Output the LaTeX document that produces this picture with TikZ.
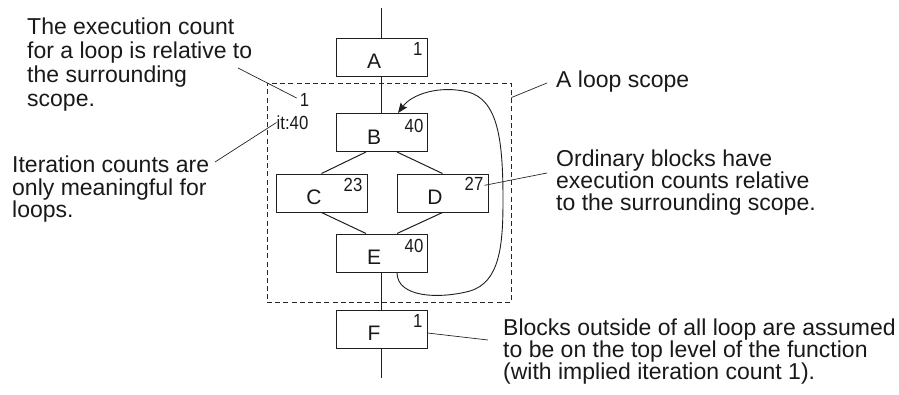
\documentclass[tikz,border=0pt]{standalone}
\usepackage{fontspec}
\setmainfont{Liberation Sans}
\newfontfamily\condfont[FakeStretch=0.88]{Liberation Sans}
\usetikzlibrary{arrows.meta}
\begin{document}
\begin{tikzpicture}[x=1pt,y=-1pt,
  line join=miter,
  blk/.style={draw=black!88, line width=1pt, minimum width=91pt, minimum height=38pt, inner sep=0pt},
  let/.style={inner sep=0pt, font=\fontsize{21}{24}\selectfont, text=black!90},
  num/.style={inner sep=0pt, anchor=north east, font=\condfont\fontsize{19}{22}\selectfont, text=black!90},
  lbl/.style={inner sep=0pt, font=\condfont\fontsize{19}{22}\selectfont, text=black!90},
  txt/.style={inner sep=0pt, anchor=north west, align=left, text=black!90},
  edge/.style={draw=black!88, line width=1pt},
  leader/.style={draw=black!85, line width=0.7pt},
  scopebox/.style={draw=black!85, line width=0.9pt, dash pattern=on 5pt off 3.2pt, minimum width=244pt, minimum height=219pt, inner sep=0pt}
]
\useasboundingbox (0,0) rectangle (899,394);

% loop scope
\node[scopebox] (scope) at (389,192.5) {};

% blocks
\node[blk] (A) at (381.5,57) {};
\node[blk] (B) at (381.5,132.5) {};
\node[blk] (C) at (321.5,193) {};
\node[blk] (D) at (442.5,193) {};
\node[blk] (E) at (381.5,253) {};
\node[blk] (F) at (381.5,329) {};

\foreach \n in {A,B,C,D,E,F}{
  \node[let] (l\n) at ([shift={(-7.5,4.5)}]\n.center) {\n};
}
\node[num] (nA) at ([shift={(-5,5)}]A.north east) {1};
\node[num] (nB) at ([shift={(-4,6)}]B.north east) {40};
\node[num] (nC) at ([shift={(-5,5)}]C.north east) {23};
\node[num] (nD) at ([shift={(-5,4)}]D.north east) {27};
\node[num] (nE) at ([shift={(-4,6)}]E.north east) {40};
\node[num] (nF) at ([shift={(-5,5)}]F.north east) {1};

% flow edges
\coordinate (top) at (381.5,8);
\coordinate (bot) at (381.5,378);
\draw[edge] (top) -- (A.north);
\draw[edge] (A.south) -- (B.north);
\draw[edge] ([xshift=-15.5pt]B.south) -- (C.north);
\draw[edge] ([xshift=15.5pt]B.south) -- (D.north);
\draw[edge] (C.south) -- ([xshift=-15.5pt]E.north);
\draw[edge] (D.south) -- ([xshift=15.5pt]E.north);
\draw[edge] (E.south) -- (F.north);
\draw[edge] (F.south) -- (bot);

% back edge
\draw[edge, line width=0.9pt, -{Stealth[length=10pt,width=8pt,inset=1.5pt]}]
  ([xshift=15.5pt]E.south)
  .. controls (397,298) and (440,299) .. (470,291)
  .. controls (500,282) and (503,245) .. (503,200)
  .. controls (503,140) and (498,100) .. (468,92)
  .. controls (440,85) and (412,94) .. ([xshift=16.5pt]B.north);

% scope labels
\node[lbl] (lone) at (304.5,100) {1};
\node[lbl] (itc) at (292.5,122.5) {it:40};

% annotation texts
\node[txt, font=\fontsize{23}{24}\selectfont] (t1) at (27,18)
  {The execution count\\for a loop is relative to\\the surrounding\\scope.};
\node[txt, font=\fontsize{23}{22.5}\selectfont] (t2) at (12,156)
  {Iteration counts are\\only meaningful for\\loops.};
\node[txt, font=\fontsize{23}{24}\selectfont] (t3) at (556,71)
  {A loop scope};
\node[txt, font=\fontsize{23}{22}\selectfont] (t4) at (556,150)
  {Ordinary blocks have\\execution counts relative\\to the surrounding scope.};
\node[txt, font=\fontsize{23}{22}\selectfont] (t5) at (503,319)
  {Blocks outside of all loop are assumed\\to be on the top level of the function\\(with implied iteration count 1).};

% leaders
\coordinate (c1) at (238,68);
\coordinate (c2) at (215,162);
\coordinate (c3) at (547,83);
\coordinate (c4) at (547,173);
\coordinate (c5) at (488,340);
\draw[leader] (c1) -- ([shift={(-3,-2)}]lone.west);
\draw[leader] (c2) -- (itc.west);
\draw[leader] (c3) -- ([shift={(0,15)}]scope.north east);
\draw[leader] (c4) -- ([shift={(1,1)}]nD.east);
\draw[leader] (c5) -- ([shift={(0,4)}]F.east);
\end{tikzpicture}
\end{document}
